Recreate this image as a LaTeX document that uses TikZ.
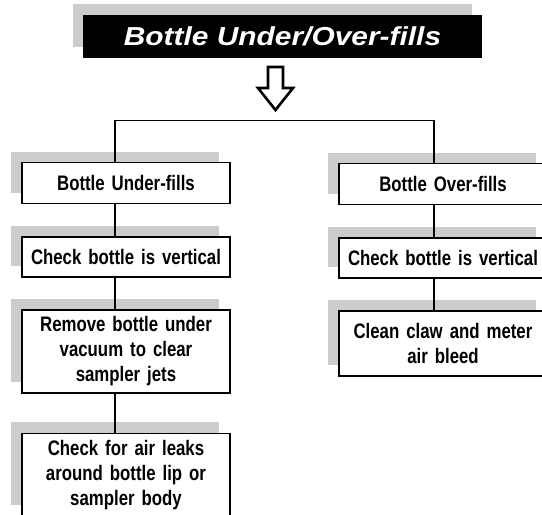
\documentclass[tikz,border=0pt]{standalone}
\usepackage{fontspec}
\setmainfont[FakeStretch=0.8]{Liberation Sans}
\newfontfamily\titlefont[FakeStretch=1.15]{Liberation Sans}
\usetikzlibrary{positioning}
\usetikzlibrary{shadows}

\begin{document}
\begin{tikzpicture}[
        x=1pt, y=-1pt,
        node distance=32pt,
        stepbox/.style={rectangle, draw, fill=white, line width=1.6pt, minimum width=208pt, minimum height=41pt, text width=200pt, align=center, inner sep=2pt, font=\bfseries\fontsize{21}{25}\selectfont, drop shadow={shadow xshift=-11pt, shadow yshift=11pt, fill=gray!40, opacity=1}},
        titlebox/.style={rectangle, fill=black, text=white, minimum width=399pt, minimum height=43pt, font=\titlefont\bfseries\itshape\fontsize{26}{30}\selectfont, drop shadow={shadow xshift=-10pt, shadow yshift=11pt, fill=gray!40, opacity=1}},
        link/.style={line width=1.4pt},
        hollow/.style={line width=2.6pt, line join=miter, fill=white}
    ]
        \useasboundingbox (0,0) rectangle (542,515);
        \clip (0,0) rectangle (542,515);

        % Kopf
        \node[titlebox] (title) at (282.5,36.5) {Bottle Under/Over-fills};
        \coordinate (tip) at (275.5,110);
        \draw[hollow] (tip) -- ++(-17.5,-22) -- ++(10,0) -- ++(0,-21) -- ++(15,0) -- ++(0,21) -- ++(10,0) -- cycle;

        % Unterfuellung
        \node[stepbox] (under) at (126,183) {Bottle Under-fills};
        \node[stepbox, minimum height=40pt] (ucheck) [below=of under] {Check bottle is vertical};
        \node[stepbox, minimum height=83pt] (uvac) [below=31pt of ucheck] {Remove bottle under\\vacuum to clear\\sampler jets};
        \node[stepbox, minimum height=83pt] (uleak) [below=39pt of uvac] {Check for air leaks\\around bottle lip or\\sampler body};

        % Ueberfuellung
        \node[stepbox] (over) at (443,184) {Bottle Over-fills};
        \node[stepbox, minimum height=40pt] (ocheck) [below=of over] {Check bottle is vertical};
        \node[stepbox, minimum height=65pt] (oclaw) [below=31pt of ocheck] {Clean claw and meter\\air bleed};

        % Verbindungen
        \draw[link] ([xshift=-11pt]under.north) -- ++(0,-41) -| ([xshift=-9pt]over.north);
        \draw[link] ([xshift=-11pt]under.south) -- ([xshift=-11pt]ucheck.north);
        \draw[link] ([xshift=-11pt]ucheck.south) -- ([xshift=-11pt]uvac.north);
        \draw[link] ([xshift=-11pt]uvac.south) -- ([xshift=-11pt]uleak.north);
        \draw[link] ([xshift=-9pt]over.south) -- ([xshift=-9pt]ocheck.north);
        \draw[link] ([xshift=-9pt]ocheck.south) -- ([xshift=-9pt]oclaw.north);
    \end{tikzpicture}
\end{document}
